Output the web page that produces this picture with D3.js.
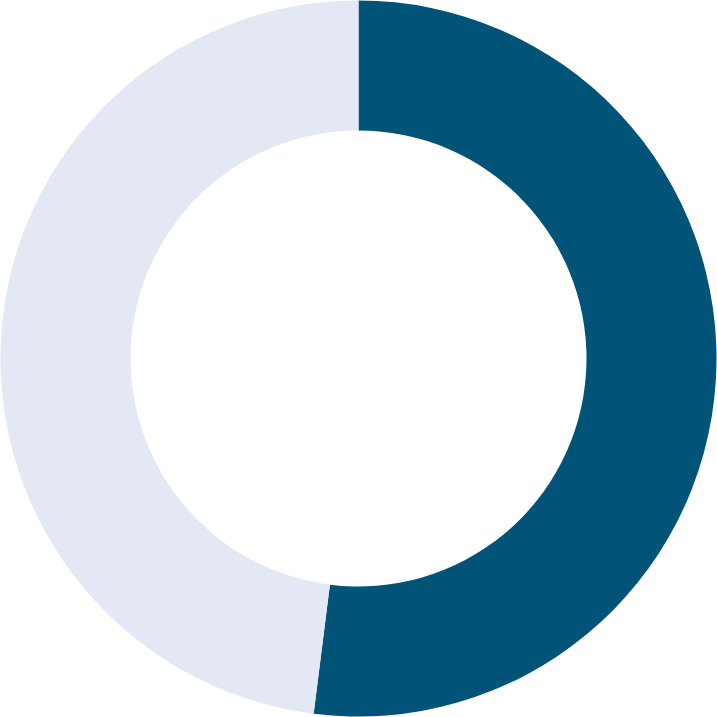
<!DOCTYPE html>
<html>
<head>
<meta charset="utf-8">
<script src="https://cdn.jsdelivr.net/npm/d3@7"></script>
<style>
  html, body { margin: 0; padding: 0; background: #fff; }
  svg { display: block; }
</style>
</head>
<body>
<div id="chart"></div>
<script>
// donut data
var labels = ["Share", "Rest"];
var values = [52, 48];
var colors = ["#015377", "#e4e7f4"];

var width = 717;
var height = 717;
var outer = 358;
var inner = 228;

const svg = d3.select("#chart")
  .append("svg")
  .attr("width", width)
  .attr("height", height);

const g = svg.append("g")
  .attr("transform", `translate(${width / 2},${height / 2})`);

const pie = d3.pie().sort(null).value(d => d);
const arc = d3.arc().innerRadius(inner).outerRadius(outer);
const color = d3.scaleOrdinal().domain(labels).range(colors);

g.selectAll("path")
  .data(pie(values))
  .join("path")
    .attr("d", arc)
    .attr("fill", (d, i) => color(labels[i]));
</script>
</body>
</html>
